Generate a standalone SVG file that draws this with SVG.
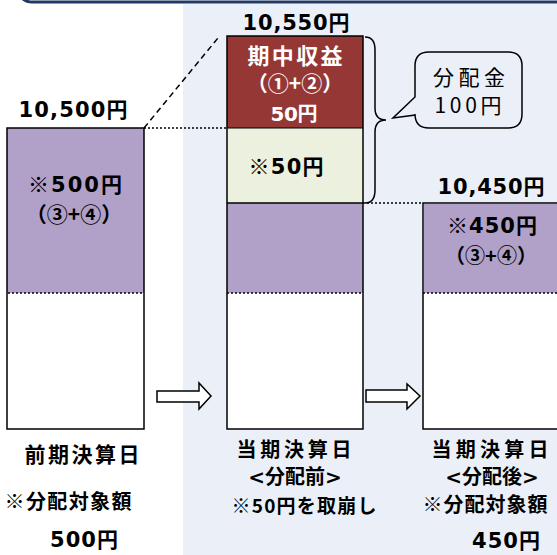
<svg xmlns="http://www.w3.org/2000/svg" width="557" height="555" viewBox="0 0 557 555">
<defs>
<style>
.t{font-family:"DejaVu Sans","Noto Sans CJK JP",sans-serif;font-weight:bold;fill:#000;text-anchor:middle}
.j{font-family:"Noto Sans CJK JP",sans-serif;font-weight:bold;fill:#000;text-anchor:middle}
.n{font-family:"Noto Sans CJK JP",sans-serif;font-weight:normal;fill:#000;text-anchor:middle}
.k{font-family:"Noto Sans CJK JP",sans-serif;font-weight:normal}
.w{fill:#fff}
.dot{stroke:#000;stroke-width:1.5;stroke-dasharray:2 2;fill:none}
.arr{fill:#fff;stroke:#000;stroke-width:1.5}
</style>
</defs>
<rect x="0" y="0" width="557" height="555" fill="#fff"/>
<rect x="183" y="4" width="374" height="551" fill="#EBF0F8"/>
<rect x="17" y="-30" width="560" height="32" rx="15" fill="#fff" stroke="#1F3864" stroke-width="3"/>

<g id="connectors">
<line x1="144" y1="128" x2="218" y2="38" stroke="#000" stroke-width="1.5" stroke-dasharray="6 4"/>
<line class="dot" x1="144" y1="128" x2="227" y2="128"/>
<line class="dot" x1="363" y1="203" x2="423" y2="203"/>
<path class="arr" d="M157,391 H199 V383 L211,396 L199,409 V402 H157 Z"/>
<path class="arr" d="M366,390 H407 V384 L420,396 L407,409 V402 H366 Z"/>
<path d="M365,37 Q375,37 375,50 V108 Q375,120 386,120 Q375,120 375,132 V190 Q375,203 365,203" fill="none" stroke="#000" stroke-width="1.5"/>
</g>

<g id="bar-prev">
<rect x="7" y="128" width="137" height="301" fill="#fff"/>
<rect x="7" y="128" width="137" height="165" fill="#B1A0C7"/>
<line class="dot" x1="8" y1="293" x2="144" y2="293"/>
<rect x="7" y="128" width="137" height="301" fill="none" stroke="#000" stroke-width="1.5"/>
<text class="t" x="73" y="117" font-size="21" textLength="109">10,500円</text>
<text class="t" x="75" y="192" font-size="21" textLength="94"><tspan class="k">※</tspan>500円</text>
<text class="j" x="74" y="222" font-size="21">（③+④）</text>
</g>

<g id="bar-before">
<rect x="227" y="36" width="136" height="393" fill="#fff"/>
<rect x="227" y="36" width="136" height="92" fill="#953735"/>
<rect x="227" y="128" width="136" height="75" fill="#EBF1DE"/>
<rect x="227" y="203" width="136" height="90" fill="#B1A0C7"/>
<line class="dot" x1="227" y1="293" x2="363" y2="293"/>
<line x1="227" y1="203" x2="363" y2="203" stroke="#000" stroke-width="1.5"/>
<line x1="227" y1="128" x2="363" y2="128" stroke="#000" stroke-width="1"/>
<rect x="227" y="36" width="136" height="393" fill="none" stroke="#000" stroke-width="1.5"/>
<text class="t" x="296" y="30" font-size="21" textLength="107">10,550円</text>
<text class="j w" x="295" y="64" font-size="22" textLength="95" style="fill:#fff">期中収益</text>
<text class="j w" x="295" y="91" font-size="21" style="fill:#fff">（①+②）</text>
<text class="t w" x="294" y="121" font-size="20" textLength="47" style="fill:#fff">50円</text>
<text class="t" x="286" y="174" font-size="21" textLength="75"><tspan class="k">※</tspan>50円</text>
</g>

<g id="bar-after">
<rect x="423" y="203" width="140" height="226" fill="#fff" stroke="#000" stroke-width="1.5"/>
<rect x="424" y="204" width="140" height="89" fill="#B1A0C7"/>
<line class="dot" x1="423" y1="293" x2="557" y2="293"/>
<text class="t" x="491" y="194" font-size="21" textLength="107">10,450円</text>
<text class="t" x="492" y="233" font-size="21" textLength="90"><tspan class="k">※</tspan>450円</text>
<text class="j" x="491" y="263" font-size="20">（③+④）</text>
</g>

<g id="callout">
<path d="M429,52 H508 Q522,52 522,66 V114 Q522,128 508,128 H429 Q415,128 415,114 V115 L393,118 L415,97 V66 Q415,52 429,52 Z" fill="#EBF0F8" stroke="#000" stroke-width="1.5"/>
<text class="n" x="469" y="85" font-size="21" textLength="72">分配金</text>
<text class="n" x="468" y="113" font-size="21" textLength="67">100円</text>
</g>

<g id="labels">
<text class="j" x="82" y="462" font-size="21" textLength="115">前期決算日</text>
<text class="j" x="68" y="509" font-size="20" textLength="127"><tspan class="k">※</tspan>分配対象額</text>
<text class="t" x="84" y="547" font-size="21" textLength="68">500円</text>
<text class="j" x="294" y="457" font-size="20" textLength="115">当期決算日</text>
<text class="t" x="295" y="484" font-size="20">&lt;<tspan class="j">分配前</tspan>&gt;</text>
<text class="j" x="304" y="513" font-size="19" textLength="145"><tspan class="k">※</tspan>50円を取崩し</text>
<text class="j" x="490" y="457" font-size="20" textLength="117">当期決算日</text>
<text class="t" x="492" y="484" font-size="20">&lt;<tspan class="j">分配後</tspan>&gt;</text>
<text class="j" x="485" y="512" font-size="20" textLength="125"><tspan class="k">※</tspan>分配対象額</text>
<text class="t" x="506" y="548" font-size="21" textLength="68">450円</text>
</g>
</svg>
